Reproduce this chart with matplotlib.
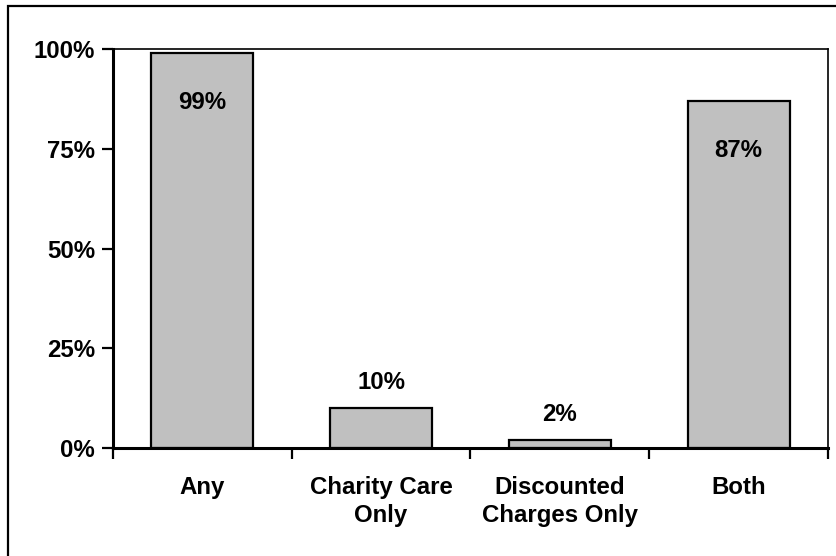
import matplotlib
matplotlib.use("Agg")
import matplotlib.pyplot as plt
from matplotlib.patches import Rectangle
from matplotlib.ticker import FuncFormatter

categories = ["Any", "Charity Care\nOnly", "Discounted\nCharges Only", "Both"]
values = [99, 10, 2, 87]
label_inside = [True, False, False, True]
yticks = [0, 25, 50, 75, 100]

plt.rcParams["font.family"] = ["Liberation Sans", "DejaVu Sans"]
plt.rcParams["font.weight"] = "bold"

W, H, DPI = 837, 556, 100
fig = plt.figure(figsize=(W / DPI, H / DPI), dpi=DPI)

# outer chart frame
fig.add_artist(Rectangle((8 / W, -0.1), 1.2, (H - 6) / H + 0.1,
                         transform=fig.transFigure, fill=False,
                         edgecolor="black", linewidth=1.6))

ax = fig.add_axes([113 / W, 108 / H, 715 / W, 399 / H])
x = list(range(len(categories)))
ax.bar(x, values, width=0.57, color="#C0C0C0", edgecolor="black",
       linewidth=1.6, zorder=2)

for xi, v, inside in zip(x, values, label_inside):
    y = v - 12.5 if inside else v + 6.5
    ax.text(xi, y, f"{v}%", ha="center", va="center",
            fontsize=17.3, fontweight="bold")

ax.set_xlim(-0.5, len(categories) - 0.5)
ax.set_ylim(0, 100)
ax.set_yticks(yticks)
ax.yaxis.set_major_formatter(FuncFormatter(lambda v, p: f"{v:.0f}%"))
ax.set_xticks([i - 0.5 for i in range(len(categories) + 1)])
ax.set_xticklabels([])
ax.set_xticks(x, minor=True)
ax.set_xticklabels(categories, minor=True, fontsize=17.3, fontweight="bold",
                   linespacing=1.3)
ax.tick_params(axis="x", which="minor", length=0, pad=20)
ax.tick_params(axis="x", which="major", length=8, width=1.6, direction="out")
ax.tick_params(axis="y", length=8, width=1.6, direction="out", pad=5,
               labelsize=17.3)
for lab in ax.get_yticklabels():
    lab.set_fontweight("bold")

ax.spines["left"].set_linewidth(2.2)
ax.spines["bottom"].set_linewidth(2.2)
ax.spines["top"].set_linewidth(1.2)
ax.spines["right"].set_linewidth(1.2)

fig.savefig("out.png", dpi=DPI)
